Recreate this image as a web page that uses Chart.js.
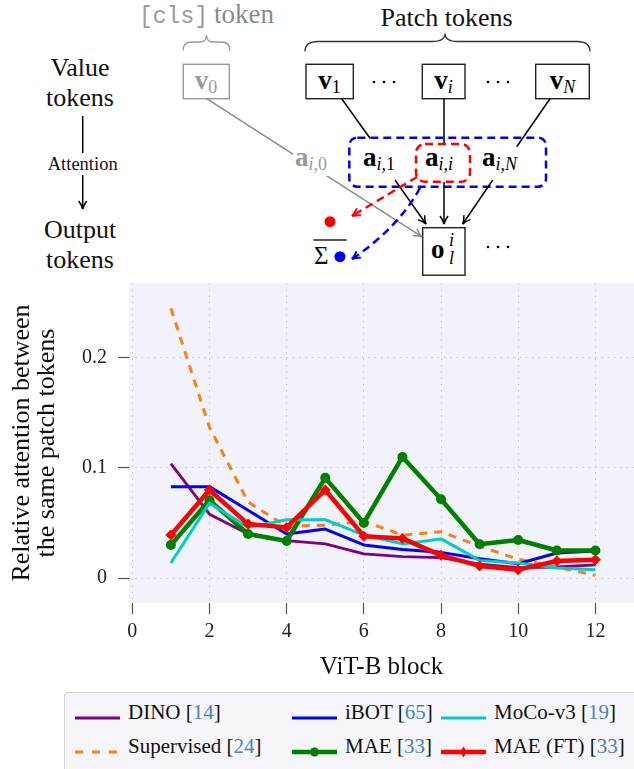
<!DOCTYPE html>
<html>
<head>
<meta charset="utf-8">
<script src="https://cdn.jsdelivr.net/npm/chart.js@4.4.1/dist/chart.umd.min.js"></script>
<style>
  body { margin: 0; width: 634px; height: 769px; overflow: hidden; background: #fff; position: relative; font-family: "Liberation Serif", serif; }
  #diagram { position: absolute; left: 0; top: 0; }
  #wrap { position: absolute; left: 0; top: 280px; width: 634px; height: 412px; }
  #legend { position: absolute; left: 64px; top: 692px; width: 600px; height: 100px; background: #f5f5fa; border: 1px solid #d2d2d2; border-radius: 3px; box-sizing: border-box; }
  .item { position: absolute; height: 20px; display: flex; align-items: center; white-space: nowrap; font-size: 21px; color: #111; }
  .item > span { margin-left: 8px; position: relative; top: -6px; }
  .cite { color: #4a82bf; }
</style>
</head>
<body>

<svg id="diagram" width="634" height="280" xmlns="http://www.w3.org/2000/svg" font-family="Liberation Serif, serif">
  <defs>
    <marker id="ahBlack" markerWidth="12" markerHeight="12" refX="9" refY="5" orient="auto" markerUnits="userSpaceOnUse">
      <path d="M1,1 Q5,4 9,5 Q5,6 1,9" fill="none" stroke="#000" stroke-width="1.5"/>
    </marker>
    <marker id="ahGray" markerWidth="12" markerHeight="12" refX="9" refY="5" orient="auto" markerUnits="userSpaceOnUse">
      <path d="M1,1 Q5,4 9,5 Q5,6 1,9" fill="none" stroke="#8a8a8a" stroke-width="1.5"/>
    </marker>
    <marker id="ahRed" markerWidth="12" markerHeight="12" refX="9" refY="5" orient="auto" markerUnits="userSpaceOnUse">
      <path d="M1,1 Q5,4 9,5 Q5,6 1,9" fill="none" stroke="#ff0000" stroke-width="2"/>
    </marker>
    <marker id="ahBlue" markerWidth="12" markerHeight="12" refX="9" refY="5" orient="auto" markerUnits="userSpaceOnUse">
      <path d="M1,1 Q5,4 9,5 Q5,6 1,9" fill="none" stroke="#0000ff" stroke-width="2"/>
    </marker>
  </defs>

  <!-- headers and braces -->
  <text x="139" y="23" font-family="Liberation Mono, monospace" font-size="23" fill="#9a9a9a">[cls]</text>
  <text x="214" y="23" font-size="27" fill="#8a8a8a">token</text>
  <path d="M183,50.5 Q183,42 192,42 L200,42 Q206.5,42 206.5,35 Q206.5,42 213,42 L221,42 Q230,42 230,50.5" fill="none" stroke="#9a9a9a" stroke-width="1.3"/>
  <text x="446.5" y="26" font-size="26" text-anchor="middle" fill="#111">Patch tokens</text>
  <path d="M305,51.5 Q305,41.5 318,41.5 L432,41.5 Q445,41.5 445,33.5 Q445,41.5 458,41.5 L577,41.5 Q590,41.5 590,51.5" fill="none" stroke="#333" stroke-width="1.3"/>

  <!-- left labels -->
  <text x="80" y="76" font-size="26" text-anchor="middle" fill="#111">Value</text>
  <text x="80" y="106" font-size="26" text-anchor="middle" fill="#111">tokens</text>
  <line x1="82.7" y1="116" x2="82.7" y2="153" stroke="#000" stroke-width="1.5"/>
  <text x="82.7" y="170" font-size="18.5" text-anchor="middle" fill="#111">Attention</text>
  <line x1="82.7" y1="175" x2="82.7" y2="209" stroke="#000" stroke-width="1.5" marker-end="url(#ahBlack)"/>
  <text x="80" y="238" font-size="26" text-anchor="middle" fill="#111">Output</text>
  <text x="80" y="268" font-size="26" text-anchor="middle" fill="#111">tokens</text>

  <!-- value token boxes -->
  <rect x="183.3" y="64.3" width="46" height="34.4" fill="#fff" stroke="#9a9a9a" stroke-width="1.4"/>
  <text x="206" y="89" font-size="27" text-anchor="middle" fill="#9a9a9a"><tspan font-weight="bold">v</tspan><tspan font-size="18" dy="4">0</tspan></text>
  <rect x="306" y="64.3" width="47.3" height="34.4" fill="#fff" stroke="#222" stroke-width="1.4"/>
  <text x="329.6" y="89" font-size="27" text-anchor="middle" fill="#000"><tspan font-weight="bold">v</tspan><tspan font-size="18" dy="4">1</tspan></text>
  <rect x="422.3" y="64.3" width="42.7" height="34.4" fill="#fff" stroke="#222" stroke-width="1.4"/>
  <text x="443.6" y="89" font-size="27" text-anchor="middle" fill="#000"><tspan font-weight="bold">v</tspan><tspan font-size="18" font-style="italic" dy="4">i</tspan></text>
  <rect x="535.7" y="64.3" width="53.6" height="34.4" fill="#fff" stroke="#222" stroke-width="1.4"/>
  <text x="562.5" y="89" font-size="27" text-anchor="middle" fill="#000"><tspan font-weight="bold">v</tspan><tspan font-size="18" font-style="italic" dy="4">N</tspan></text>
  <g fill="#000">
    <circle cx="374" cy="82" r="1.3"/><circle cx="384" cy="82" r="1.3"/><circle cx="394" cy="82" r="1.3"/>
    <circle cx="488" cy="82" r="1.3"/><circle cx="498" cy="82" r="1.3"/><circle cx="508" cy="82" r="1.3"/>
    <circle cx="488" cy="247" r="1.3"/><circle cx="498" cy="247" r="1.3"/><circle cx="508" cy="247" r="1.3"/>
  </g>

  <!-- connections -->
  <line x1="206.7" y1="98.7" x2="421.7" y2="236.7" stroke="#8a8a8a" stroke-width="1.5" marker-end="url(#ahGray)"/>
  <rect x="293" y="148" width="43" height="28" fill="#fff"/>
  <text x="295" y="166" font-size="27" fill="#9a9a9a"><tspan font-weight="bold">a</tspan><tspan font-size="18" font-style="italic" dy="4">i,</tspan><tspan font-size="18">0</tspan></text>
  <line x1="341.7" y1="98.7" x2="370" y2="138.3" stroke="#000" stroke-width="1.5"/>
  <line x1="444" y1="98.7" x2="444" y2="145" stroke="#000" stroke-width="1.5"/>
  <line x1="550" y1="98.7" x2="516.7" y2="146.7" stroke="#000" stroke-width="1.5"/>

  <rect x="349.3" y="137.7" width="196.7" height="49" rx="8" fill="none" stroke="#0000ff" stroke-width="2.5" stroke-dasharray="8,5"/>
  <rect x="416" y="144" width="54" height="37.7" rx="9" fill="none" stroke="#ff0000" stroke-width="2.5" stroke-dasharray="8,5"/>

  <text x="363" y="166" font-size="27" fill="#000"><tspan font-weight="bold">a</tspan><tspan font-size="18" font-style="italic" dy="4">i,</tspan><tspan font-size="18">1</tspan></text>
  <text x="425" y="166" font-size="27" fill="#000"><tspan font-weight="bold">a</tspan><tspan font-size="18" font-style="italic" dy="4">i,i</tspan></text>
  <text x="482" y="166" font-size="27" fill="#000"><tspan font-weight="bold">a</tspan><tspan font-size="18" font-style="italic" dy="4">i,N</tspan></text>

  <line x1="395" y1="180" x2="426" y2="224" stroke="#000" stroke-width="1.5" marker-end="url(#ahBlack)"/>
  <line x1="444" y1="182" x2="444" y2="224" stroke="#000" stroke-width="1.5" marker-end="url(#ahBlack)"/>
  <line x1="492.7" y1="180" x2="462.7" y2="224" stroke="#000" stroke-width="1.5" marker-end="url(#ahBlack)"/>

  <path d="M417,177 Q392,192 352,216" fill="none" stroke="#ff0000" stroke-width="2.5" stroke-dasharray="8,5" marker-end="url(#ahRed)"/>
  <path d="M420,188 Q398,228 352,259" fill="none" stroke="#0000ff" stroke-width="2.5" stroke-dasharray="8,5" marker-end="url(#ahBlue)"/>
  <circle cx="330" cy="221.7" r="5.5" fill="#ff0000"/>
  <line x1="313.3" y1="240" x2="346.7" y2="240" stroke="#222" stroke-width="1.5"/>
  <text x="314" y="264" font-size="25" fill="#111">Σ</text>
  <circle cx="340" cy="256.7" r="5.5" fill="#0000ff"/>

  <!-- output box -->
  <rect x="422.7" y="227.7" width="42.3" height="47.5" fill="#fff" stroke="#222" stroke-width="1.4"/>
  <text x="431" y="258" font-size="27" font-weight="bold" fill="#000">o</text>
  <text x="449" y="246" font-size="18" font-style="italic" fill="#000">i</text>
  <text x="449" y="264" font-size="18" font-style="italic" fill="#000">l</text>
</svg>

<div id="wrap"><canvas id="chart" width="634" height="412"></canvas></div>
<div id="legend"></div>

<script>
// ViT-B blocks 1..12
const blocks = [1, 2, 3, 4, 5, 6, 7, 8, 9, 10, 11, 12];

// relative attention between the same patch tokens
const dino       = [0.104, 0.058, 0.040, 0.034, 0.031, 0.022, 0.0195, 0.0185, 0.0125, 0.0095, 0.010, 0.012];
const supervised = [0.245, 0.137, 0.069, 0.047, 0.048, 0.0515, 0.039, 0.042, 0.029, 0.017, 0.010, 0.0024];
const ibot       = [0.083, 0.083, 0.0615, 0.040, 0.0445, 0.030, 0.0258, 0.0233, 0.0175, 0.013, 0.0227, 0.0245];
const mocoV3     = [0.0136, 0.068, 0.046, 0.053, 0.053, 0.039, 0.031, 0.0355, 0.016, 0.0136, 0.009, 0.0076];
const mae        = [0.030, 0.0706, 0.040, 0.0336, 0.091, 0.050, 0.110, 0.0715, 0.0306, 0.0345, 0.025, 0.025];
const maeFt      = [0.039, 0.080, 0.049, 0.046, 0.080, 0.038, 0.036, 0.0206, 0.011, 0.0076, 0.0155, 0.0167];

// legend names and citation numbers
const seriesNames = ['DINO', 'Supervised', 'iBOT', 'MAE', 'MoCo-v3', 'MAE (FT)'];
const seriesCites = ['14', '24', '65', '33', '19', '33'];

// axis ticks
const xTicks = [0, 2, 4, 6, 8, 10, 12];
const yTicks = [0, 0.1, 0.2];
const yTickLabels = ['0', '0.1', '0.2'];

const seriesValues = [dino, supervised, ibot, mae, mocoV3, maeFt];
const seriesColors = ['#800080', '#ff7f0e', '#0000ff', '#008000', '#00cccc', '#ff0000'];
const seriesWidths = [2.8, 3, 3, 4.5, 3, 4.5];
const seriesDash = [[], [8, 7], [], [], [], []];
const seriesMarker = [null, null, null, 'circle', null, 'rectRot'];
const seriesOrder = [6, 5, 4, 3, 2, 1];

const fontFamily = '"Liberation Serif", "Times New Roman", serif';

const datasets = seriesNames.map((name, i) => ({
    label: name,
    data: blocks.map((b, j) => ({ x: b, y: seriesValues[i][j] })),
    borderColor: seriesColors[i],
    backgroundColor: seriesColors[i],
    borderWidth: seriesWidths[i],
    borderDash: seriesDash[i],
    borderJoinStyle: 'round',
    pointStyle: seriesMarker[i] || 'circle',
    pointRadius: seriesMarker[i] ? (seriesMarker[i] === 'rectRot' ? 5.5 : 5) : 0,
    pointBorderWidth: 0,
    tension: 0,
    order: seriesOrder[i]
}));

// lavender plot area
const plotBackground = {
    id: 'plotBackground',
    beforeDraw(chart) {
        const { ctx, chartArea: a } = chart;
        ctx.save();
        ctx.fillStyle = '#f1f2fa';
        ctx.fillRect(a.left, a.top, a.width, a.height);
        ctx.restore();
    }
};

const gridOpts = {
    color: '#c4c4cc',
    lineWidth: 1,
    tickLength: 11,
    tickColor: '#555',
    tickWidth: 1.2,
    tickBorderDash: []
};

new Chart(document.getElementById('chart').getContext('2d'), {
    type: 'line',
    data: { datasets },
    options: {
        responsive: false,
        animation: false,
        devicePixelRatio: 1,
        layout: { autoPadding: false, padding: { top: 3, left: 0, right: 0, bottom: 0 } },
        plugins: { legend: { display: false }, tooltip: { enabled: false } },
        scales: {
            x: {
                type: 'linear',
                min: -0.085,
                max: 13,
                afterBuildTicks: s => { s.ticks = xTicks.map(v => ({ value: v })); },
                afterFit: s => { s.height = 89; s.paddingLeft = 0; s.paddingRight = 0; },
                grid: gridOpts,
                border: { display: false, dash: [1.3, 5] },
                ticks: { padding: 6, color: '#222', font: { family: fontFamily, size: 20 }, callback: v => String(v) },
                title: { display: true, text: 'ViT-B block', color: '#111', font: { family: fontFamily, size: 25, lineHeight: 1 }, padding: { top: 0, bottom: 12 } }
            },
            y: {
                type: 'linear',
                min: -0.0227,
                max: 0.268,
                afterBuildTicks: s => { s.ticks = yTicks.map(v => ({ value: v })); },
                afterFit: s => { s.width = 129; s.paddingTop = 0; s.paddingBottom = 0; },
                grid: gridOpts,
                border: { display: false, dash: [1.3, 5] },
                ticks: { padding: 11, color: '#222', font: { family: fontFamily, size: 20 },
                    callback: v => yTickLabels[yTicks.indexOf(v)] },
                title: { display: true, text: ['Relative attention between', 'the same patch tokens'], color: '#111',
                    font: { family: fontFamily, size: 26, lineHeight: '25px' }, padding: { top: 10, bottom: 0 } }
            }
        }
    },
    plugins: [plotBackground]
});

// legend: three columns, two rows, filled column by column
const legendCols = [10, 227, 376];
const legendRows = [15, 49];
const legend = document.getElementById('legend');
seriesNames.forEach((name, i) => {
    const col = Math.floor(i / 2), row = i % 2;
    const item = document.createElement('div');
    item.className = 'item';
    item.style.left = legendCols[col] + 'px';
    item.style.top = legendRows[row] + 'px';
    let marker = '';
    if (seriesMarker[i] === 'circle') marker = `<circle cx="22.5" cy="10" r="4.5" fill="${seriesColors[i]}"/>`;
    if (seriesMarker[i] === 'rectRot') marker = `<path d="M22.5,4.5 L26,10 L22.5,15.5 L19,10 Z" fill="${seriesColors[i]}"/>`;
    const dash = seriesDash[i].length ? `stroke-dasharray="8,9"` : '';
    item.innerHTML =
        `<svg width="45" height="20"><line x1="0" y1="10" x2="45" y2="10" stroke="${seriesColors[i]}" stroke-width="${seriesWidths[i]}" ${dash}/>${marker}</svg>` +
        `<span>${name} [<span class="cite">${seriesCites[i]}</span>]</span>`;
    legend.appendChild(item);
});
</script>
</body>
</html>
